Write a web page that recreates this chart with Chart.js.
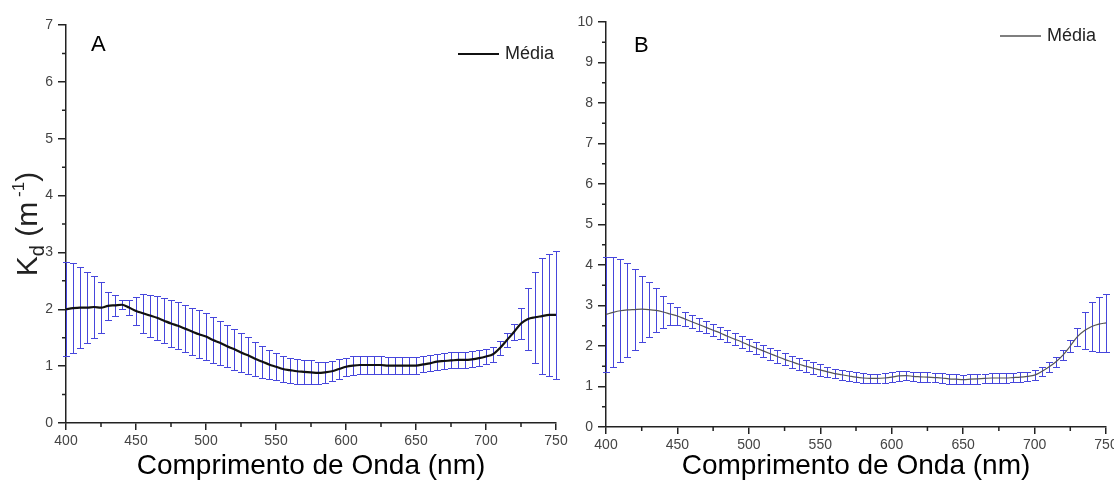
<!DOCTYPE html>
<html>
<head>
<meta charset="utf-8">
<script src="https://cdn.jsdelivr.net/npm/chart.js@4.4.0/dist/chart.umd.min.js"></script>
<style>
  html, body { margin: 0; padding: 0; background: #fff; }
  #wrap { position: relative; width: 1114px; height: 482px; }
  canvas { position: absolute; top: 0; }
</style>
</head>
<body>
<div id="wrap">
  <canvas id="chartA" width="572" height="482" style="left:0"></canvas>
  <canvas id="chartB" width="542" height="482" style="left:572px"></canvas>
</div>
<script>
// wavelength (nm)
const wavelengths = [
  400, 405, 410, 415, 420, 425, 430, 435, 440, 445, 450, 455, 460, 465, 470, 475, 480, 485,
  490, 495, 500, 505, 510, 515, 520, 525, 530, 535, 540, 545, 550, 555, 560, 565, 570, 575,
  580, 585, 590, 595, 600, 605, 610, 615, 620, 625, 630, 635, 640, 645, 650, 655, 660, 665,
  670, 675, 680, 685, 690, 695, 700, 705, 710, 715, 720, 725, 730, 735, 740, 745, 750
];

// panel A: mean Kd and standard deviation
const meanA = [
  2.00, 2.02, 2.03, 2.03, 2.04, 2.03, 2.06, 2.07, 2.08, 2.03, 1.97, 1.93, 1.89, 1.85, 1.80, 1.75, 1.71, 1.66,
  1.61, 1.56, 1.52, 1.46, 1.41, 1.35, 1.30, 1.24, 1.19, 1.13, 1.08, 1.03, 0.99, 0.95, 0.93, 0.91, 0.90, 0.89,
  0.88, 0.89, 0.91, 0.95, 0.99, 1.01, 1.02, 1.02, 1.02, 1.02, 1.01, 1.01, 1.01, 1.01, 1.01, 1.03, 1.05, 1.08,
  1.09, 1.10, 1.11, 1.11, 1.12, 1.14, 1.17, 1.21, 1.32, 1.46, 1.60, 1.75, 1.83, 1.86, 1.88, 1.90, 1.90
];
const sdA = [
  0.83, 0.79, 0.71, 0.63, 0.55, 0.45, 0.25, 0.18, 0.08, 0.13, 0.25, 0.34, 0.37, 0.39, 0.40, 0.41, 0.41, 0.42,
  0.42, 0.42, 0.41, 0.40, 0.39, 0.37, 0.36, 0.34, 0.32, 0.30, 0.28, 0.26, 0.24, 0.23, 0.22, 0.22, 0.21, 0.21,
  0.20, 0.19, 0.18, 0.17, 0.16, 0.16, 0.15, 0.15, 0.15, 0.15, 0.15, 0.15, 0.15, 0.15, 0.15, 0.14, 0.14, 0.14,
  0.14, 0.14, 0.14, 0.14, 0.14, 0.14, 0.14, 0.13, 0.12, 0.12, 0.14, 0.27, 0.55, 0.80, 1.02, 1.07, 1.13
];

// panel B: mean Kd and standard deviation
const meanB = [
  2.78, 2.83, 2.87, 2.89, 2.90, 2.91, 2.90, 2.88, 2.84, 2.79, 2.74, 2.67, 2.60, 2.53, 2.46, 2.39, 2.32, 2.24,
  2.17, 2.10, 2.02, 1.95, 1.88, 1.81, 1.74, 1.67, 1.61, 1.55, 1.50, 1.45, 1.41, 1.36, 1.32, 1.29, 1.26, 1.23,
  1.21, 1.20, 1.20, 1.21, 1.23, 1.26, 1.27, 1.25, 1.24, 1.23, 1.22, 1.21, 1.19, 1.18, 1.17, 1.18, 1.19, 1.20,
  1.21, 1.21, 1.21, 1.22, 1.23, 1.25, 1.28, 1.37, 1.48, 1.61, 1.78, 2.00, 2.23, 2.38, 2.48, 2.54, 2.57
];
const sdB = [
  1.42, 1.36, 1.27, 1.15, 1.00, 0.82, 0.68, 0.54, 0.40, 0.28, 0.22, 0.18, 0.16, 0.15, 0.15, 0.15, 0.15, 0.15,
  0.15, 0.15, 0.15, 0.15, 0.15, 0.15, 0.15, 0.15, 0.15, 0.15, 0.15, 0.15, 0.15, 0.12, 0.12, 0.12, 0.12, 0.12,
  0.12, 0.12, 0.12, 0.12, 0.12, 0.12, 0.12, 0.12, 0.12, 0.12, 0.12, 0.12, 0.12, 0.12, 0.12, 0.12, 0.12, 0.12,
  0.12, 0.12, 0.12, 0.12, 0.12, 0.12, 0.12, 0.12, 0.12, 0.12, 0.12, 0.15, 0.22, 0.45, 0.60, 0.68, 0.71
];

const xTicks = [400, 450, 500, 550, 600, 650, 700, 750];
const legendLabel = "Média";
const xTitle = "Comprimento de Onda (nm)";

const FONT = "'Liberation Sans', Arial, sans-serif";
const BAR_COLOR = "#4646dc";
const AXIS_COLOR = "#222";

function makeChart(id, mean, sd, cfg) {
  const decor = {
    id: "decor",
    beforeDatasetsDraw(chart) {
      // error bars (mean ± sd), placed through the chart scales
      const { ctx, scales: { x, y } } = chart;
      ctx.save();
      ctx.strokeStyle = BAR_COLOR;
      ctx.lineWidth = 1;
      ctx.beginPath();
      wavelengths.forEach((w, i) => {
        const px = Math.round(x.getPixelForValue(w)) + 0.5;
        const top = Math.round(y.getPixelForValue(mean[i] + sd[i])) + 0.5;
        const bot = Math.round(y.getPixelForValue(mean[i] - sd[i])) + 0.5;
        ctx.moveTo(px, top); ctx.lineTo(px, bot);
        ctx.moveTo(px - 3.5, top); ctx.lineTo(px + 3.5, top);
        ctx.moveTo(px - 3.5, bot); ctx.lineTo(px + 3.5, bot);
      });
      ctx.stroke();
      ctx.restore();
    },
    afterDraw(chart) {
      const { ctx, chartArea: a, scales: { x, y } } = chart;
      ctx.save();
      // minor ticks
      ctx.strokeStyle = AXIS_COLOR;
      ctx.lineWidth = 1.5;
      ctx.beginPath();
      for (let v = 0.5; v < cfg.yMax; v += 1) {
        const py = y.getPixelForValue(v);
        ctx.moveTo(a.left - 4, py); ctx.lineTo(a.left, py);
      }
      for (let i = 0; i < xTicks.length - 1; i++) {
        const px = x.getPixelForValue((xTicks[i] + xTicks[i + 1]) / 2);
        ctx.moveTo(px, a.bottom); ctx.lineTo(px, a.bottom + 4);
      }
      ctx.stroke();

      // panel letter
      ctx.fillStyle = "#000";
      ctx.font = "22px " + FONT;
      ctx.textBaseline = "alphabetic";
      ctx.textAlign = "left";
      ctx.fillText(cfg.letter, cfg.letterPos[0], cfg.letterPos[1]);

      // legend
      const [lx, ly] = cfg.legendPos;
      ctx.strokeStyle = cfg.lineColor;
      ctx.lineWidth = cfg.legendLineWidth;
      ctx.beginPath();
      ctx.moveTo(lx, ly); ctx.lineTo(lx + 41, ly);
      ctx.stroke();
      ctx.fillStyle = "#222";
      ctx.font = "18px " + FONT;
      ctx.textBaseline = "middle";
      ctx.fillText(legendLabel, lx + 47, ly);

      // y title with subscript / superscript
      if (cfg.yTitle) {
        const parts = [
          { t: "K", size: 30, dy: 0 },
          { t: "d", size: 20, dy: 7 },
          { t: " (m", size: 30, dy: 0 },
          { t: " -1", size: 17, dy: -13 },
          { t: ")", size: 30, dy: 0 }
        ];
        ctx.translate(cfg.yTitle[0], cfg.yTitle[1]);
        ctx.rotate(-Math.PI / 2);
        ctx.textBaseline = "alphabetic";
        let total = 0;
        parts.forEach(p => { ctx.font = p.size + "px " + FONT; p.w = ctx.measureText(p.t).width; total += p.w; });
        let cx = -total / 2;
        parts.forEach(p => {
          ctx.font = p.size + "px " + FONT;
          ctx.fillText(p.t, cx, p.dy);
          cx += p.w;
        });
      }
      ctx.restore();
    }
  };

  return new Chart(document.getElementById(id), {
    type: "line",
    data: {
      datasets: [{
        label: legendLabel,
        data: wavelengths.map((w, i) => ({ x: w, y: mean[i] })),
        borderColor: cfg.lineColor,
        borderWidth: cfg.lineWidth,
        pointRadius: 0,
        cubicInterpolationMode: "monotone",
        fill: false
      }]
    },
    options: {
      responsive: false,
      animation: false,
      layout: { padding: { left: 0, right: cfg.padRight, top: cfg.padTop, bottom: 0 } },
      plugins: { legend: { display: false }, tooltip: { enabled: false } },
      scales: {
        x: {
          type: "linear",
          min: 400,
          max: 750,
          afterBuildTicks: s => { s.ticks = xTicks.map(v => ({ value: v })); },
          afterFit: s => { s.height = cfg.xHeight; s.paddingLeft = 0; s.paddingRight = 0; },
          border: { color: AXIS_COLOR, width: 1.5 },
          grid: { drawOnChartArea: false, drawTicks: true, tickLength: 7, color: AXIS_COLOR, lineWidth: 1.5 },
          ticks: { color: "#444", font: { family: FONT, size: 14 }, padding: 3, maxRotation: 0 },
          title: {
            display: true,
            text: xTitle,
            color: "#000",
            font: { family: FONT, size: 28, lineHeight: 1 },
            padding: { top: 0, bottom: 2 }
          }
        },
        y: {
          min: 0,
          max: cfg.yMax,
          afterFit: s => { s.width = cfg.yWidth; s.paddingTop = 0; s.paddingBottom = 0; },
          border: { color: AXIS_COLOR, width: 1.5 },
          grid: { drawOnChartArea: false, drawTicks: true, tickLength: 8, color: AXIS_COLOR, lineWidth: 1.5 },
          ticks: { stepSize: 1, color: "#444", font: { family: FONT, size: 14 }, padding: 5 }
        }
      }
    },
    plugins: [decor]
  });
}

makeChart("chartA", meanA, sdA, {
  yMax: 7, yWidth: 66, xHeight: 59, padTop: 25, padRight: 16,
  lineColor: "#111", lineWidth: 2.2, legendLineWidth: 2,
  letter: "A", letterPos: [91, 51], legendPos: [458, 54],
  yTitle: [37, 224]
});

makeChart("chartB", meanB, sdB, {
  yMax: 10, yWidth: 34, xHeight: 55, padTop: 22, padRight: 8,
  lineColor: "#555", lineWidth: 1.2, legendLineWidth: 1.5,
  letter: "B", letterPos: [62, 52], legendPos: [428, 36],
  yTitle: null
});
</script>
</body>
</html>
